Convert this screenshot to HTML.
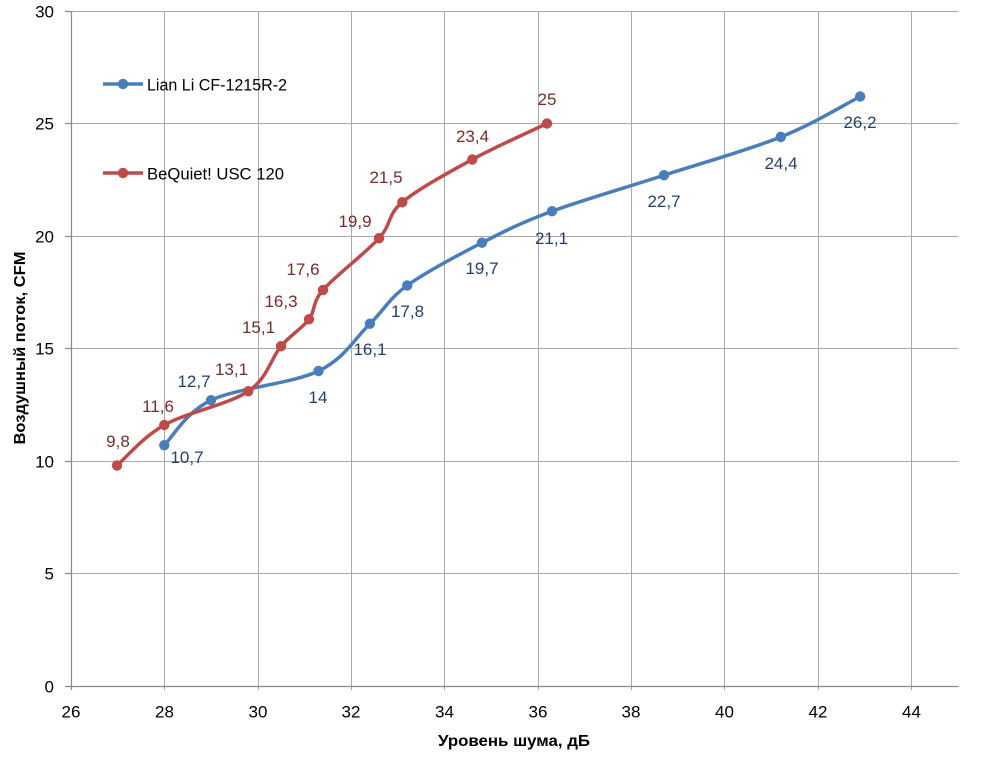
<!DOCTYPE html>
<html><head><meta charset="utf-8"><style>
html,body{margin:0;padding:0;background:#fff;}
svg{display:block;}
text{font-family:"Liberation Sans",sans-serif;}
</style></head><body>
<svg width="1000" height="758" viewBox="0 0 1000 758" xmlns="http://www.w3.org/2000/svg">
<rect width="1000" height="758" fill="#fff"/>
<!-- grid -->
<g stroke="#a9a9a9" stroke-width="1" fill="none">
<line x1="71" y1="11.5" x2="958.5" y2="11.5"/>
<line x1="71" y1="123.5" x2="958.5" y2="123.5"/>
<line x1="71" y1="236.5" x2="958.5" y2="236.5"/>
<line x1="71" y1="348.5" x2="958.5" y2="348.5"/>
<line x1="71" y1="461.5" x2="958.5" y2="461.5"/>
<line x1="71" y1="573.5" x2="958.5" y2="573.5"/>
<line x1="164.5" y1="11" x2="164.5" y2="690"/>
<line x1="258.5" y1="11" x2="258.5" y2="690"/>
<line x1="351.5" y1="11" x2="351.5" y2="690"/>
<line x1="444.5" y1="11" x2="444.5" y2="690"/>
<line x1="538.5" y1="11" x2="538.5" y2="690"/>
<line x1="631.5" y1="11" x2="631.5" y2="690"/>
<line x1="724.5" y1="11" x2="724.5" y2="690"/>
<line x1="818.5" y1="11" x2="818.5" y2="690"/>
<line x1="911.5" y1="11" x2="911.5" y2="690"/>
</g>
<!-- axes -->
<g stroke="#8a8a8a" stroke-width="1.2" fill="none">
<line x1="71.5" y1="11" x2="71.5" y2="690"/>
<line x1="65" y1="686.5" x2="958.5" y2="686.5"/>
<line x1="65" y1="11.5" x2="71" y2="11.5"/>
<line x1="65" y1="123.5" x2="71" y2="123.5"/>
<line x1="65" y1="236.5" x2="71" y2="236.5"/>
<line x1="65" y1="348.5" x2="71" y2="348.5"/>
<line x1="65" y1="461.5" x2="71" y2="461.5"/>
<line x1="65" y1="573.5" x2="71" y2="573.5"/>
</g>
<!-- y tick labels -->
<g font-size="17" fill="#000" text-anchor="end">
<text x="54" y="17.5">30</text>
<text x="54" y="129.5">25</text>
<text x="54" y="242.5">20</text>
<text x="54" y="354.5">15</text>
<text x="54" y="467.5">10</text>
<text x="54" y="579.5">5</text>
<text x="54" y="692.5">0</text>
</g>
<!-- x tick labels -->
<g font-size="17" fill="#000" text-anchor="middle">
<text x="71" y="717.5">26</text>
<text x="164.5" y="717.5">28</text>
<text x="258" y="717.5">30</text>
<text x="351" y="717.5">32</text>
<text x="444.5" y="717.5">34</text>
<text x="538" y="717.5">36</text>
<text x="631" y="717.5">38</text>
<text x="724.5" y="717.5">40</text>
<text x="818" y="717.5">42</text>
<text x="911.5" y="717.5">44</text>
</g>
<!-- axis titles -->
<text x="514" y="746" font-size="16" font-weight="bold" text-anchor="middle" textLength="152" lengthAdjust="spacingAndGlyphs">Уровень шума, дБ</text>
<text transform="translate(25,348) rotate(-90)" x="0" y="0" font-size="16" font-weight="bold" text-anchor="middle" textLength="193" lengthAdjust="spacingAndGlyphs">Воздушный поток, CFM</text>

<!-- blue series -->
<path d="M164.3,445.25 C172.08,437.75 185.3,412.63 211,400.25 C236.7,387.87 292.02,383.75 318.5,371 C344.98,358.25 355.12,338 369.9,323.75 C384.68,309.5 388.52,299 407.2,285.5 C425.88,272 457.87,255.13 482,242.75 C506.13,230.37 521.67,222.5 552,211.25 C582.33,200 625.87,187.63 664,175.25 C702.13,162.87 748.1,150.13 780.8,137 C813.5,123.87 846.97,103.25 860.2,96.5" fill="none" stroke="#4a7ebb" stroke-width="3.5" stroke-linecap="round" stroke-linejoin="round"/>
<g fill="#4a7ebb">
<circle cx="164.3" cy="445.25" r="5.2"/>
<circle cx="211" cy="400.25" r="5.2"/>
<circle cx="318.5" cy="371" r="5.2"/>
<circle cx="369.9" cy="323.75" r="5.2"/>
<circle cx="407.2" cy="285.5" r="5.2"/>
<circle cx="482" cy="242.75" r="5.2"/>
<circle cx="552" cy="211.25" r="5.2"/>
<circle cx="664" cy="175.25" r="5.2"/>
<circle cx="780.8" cy="137" r="5.2"/>
<circle cx="860.2" cy="96.5" r="5.2"/>
</g>

<!-- red series -->
<path d="M117,465.5 C124.88,458.75 142.42,437.38 164.3,425 C186.18,412.62 228.85,404.38 248.3,391.25 C267.75,378.12 270.88,358.25 281,346.25 C291.12,334.25 302,328.63 309,319.25 C316,309.870 311.33,303.5 323,290 C334.67,276.5 365.78,252.88 379,238.25 C392.22,223.62 386.75,215.38 402.3,202.25 C417.85,189.12 448.18,172.63 472.3,159.5 C496.42,146.37 534.55,129.5 547,123.5" fill="none" stroke="#be4b48" stroke-width="3.5" stroke-linecap="round" stroke-linejoin="round"/>
<g fill="#be4b48">
<circle cx="117" cy="465.5" r="5.2"/>
<circle cx="164.3" cy="425" r="5.2"/>
<circle cx="248.3" cy="391.25" r="5.2"/>
<circle cx="281" cy="346.25" r="5.2"/>
<circle cx="309" cy="319.25" r="5.2"/>
<circle cx="323" cy="290" r="5.2"/>
<circle cx="379" cy="238.25" r="5.2"/>
<circle cx="402.3" cy="202.25" r="5.2"/>
<circle cx="472.3" cy="159.5" r="5.2"/>
<circle cx="547" cy="123.5" r="5.2"/>
</g>

<!-- red labels -->
<g font-size="17" fill="#772c2a" text-anchor="middle">
<text x="118" y="447">9,8</text>
<text x="158" y="412">11,6</text>
<text x="231.5" y="375">13,1</text>
<text x="258.5" y="333">15,1</text>
<text x="281" y="307">16,3</text>
<text x="303" y="275">17,6</text>
<text x="355" y="227">19,9</text>
<text x="386" y="183">21,5</text>
<text x="472.5" y="142">23,4</text>
<text x="547" y="105">25</text>
</g>
<!-- blue labels -->
<g font-size="17" fill="#24406a" text-anchor="middle">
<text x="187" y="463">10,7</text>
<text x="194" y="387">12,7</text>
<text x="318" y="403">14</text>
<text x="370" y="355">16,1</text>
<text x="407.5" y="317">17,8</text>
<text x="482" y="274">19,7</text>
<text x="551.5" y="244">21,1</text>
<text x="664" y="207">22,7</text>
<text x="781" y="169">24,4</text>
<text x="860" y="128">26,2</text>
</g>

<!-- legend -->
<line x1="103" y1="84" x2="143" y2="84" stroke="#4a7ebb" stroke-width="3.5"/>
<circle cx="123" cy="84" r="5.2" fill="#4a7ebb"/>
<text x="147" y="90.5" font-size="17" fill="#000" textLength="140" lengthAdjust="spacingAndGlyphs">Lian Li CF-1215R-2</text>
<line x1="103" y1="173" x2="143" y2="173" stroke="#be4b48" stroke-width="3.5"/>
<circle cx="123" cy="173" r="5.2" fill="#be4b48"/>
<text x="147" y="179.5" font-size="17" fill="#000" textLength="137" lengthAdjust="spacingAndGlyphs">BeQuiet! USC 120</text>
</svg>
</body></html>
